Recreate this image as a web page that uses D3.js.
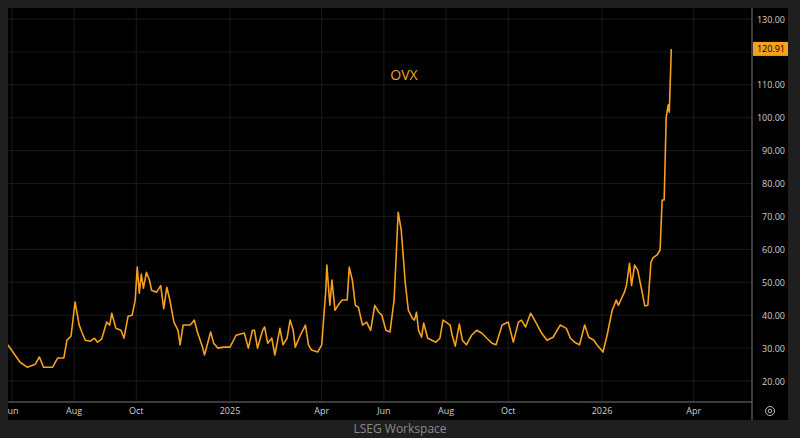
<!DOCTYPE html>
<html><head><meta charset="utf-8">
<script src="https://cdn.jsdelivr.net/npm/d3@7"></script>
<style>body{margin:0;background:#1f1f1f;overflow:hidden}text{font-family:"Open Sans",sans-serif}</style>
</head><body><svg id="c" width="800" height="438"></svg>
<script>
dates = ["2024-05-28","2024-06-02","2024-06-09","2024-06-16","2024-06-24","2024-06-28","2024-07-02","2024-07-06","2024-07-11","2024-07-16","2024-07-22","2024-07-25","2024-07-29","2024-08-02","2024-08-06","2024-08-09","2024-08-12","2024-08-17","2024-08-21","2024-08-24","2024-08-28","2024-09-02","2024-09-05","2024-09-07","2024-09-11","2024-09-16","2024-09-19","2024-09-23","2024-09-27","2024-09-30","2024-10-02","2024-10-04","2024-10-06","2024-10-08","2024-10-11","2024-10-14","2024-10-16","2024-10-21","2024-10-25","2024-10-28","2024-10-31","2024-11-03","2024-11-07","2024-11-11","2024-11-13","2024-11-16","2024-11-23","2024-11-27","2024-11-30","2024-12-05","2024-12-07","2024-12-13","2024-12-16","2024-12-20","2024-12-26","2025-01-01","2025-01-07","2025-01-15","2025-01-19","2025-01-23","2025-01-25","2025-01-28","2025-02-02","2025-02-04","2025-02-07","2025-02-11","2025-02-14","2025-02-19","2025-02-22","2025-02-26","2025-03-01","2025-03-04","2025-03-06","2025-03-11","2025-03-16","2025-03-19","2025-03-22","2025-03-28","2025-04-01","2025-04-05","2025-04-06","2025-04-09","2025-04-11","2025-04-14","2025-04-17","2025-04-21","2025-04-26","2025-04-28","2025-05-01","2025-05-04","2025-05-07","2025-05-11","2025-05-15","2025-05-19","2025-05-23","2025-05-27","2025-05-30","2025-06-03","2025-06-07","2025-06-11","2025-06-13","2025-06-15","2025-06-18","2025-06-22","2025-06-25","2025-06-29","2025-07-01","2025-07-03","2025-07-05","2025-07-08","2025-07-10","2025-07-14","2025-07-18","2025-07-22","2025-07-26","2025-07-29","2025-08-01","2025-08-05","2025-08-07","2025-08-10","2025-08-14","2025-08-17","2025-08-21","2025-08-26","2025-08-31","2025-09-05","2025-09-10","2025-09-15","2025-09-19","2025-09-25","2025-10-01","2025-10-06","2025-10-11","2025-10-14","2025-10-18","2025-10-23","2025-10-28","2025-11-02","2025-11-08","2025-11-14","2025-11-21","2025-11-27","2025-12-01","2025-12-05","2025-12-10","2025-12-15","2025-12-19","2025-12-24","2025-12-27","2026-01-02","2026-01-06","2026-01-11","2026-01-13","2026-01-15","2026-01-17","2026-01-20","2026-01-23","2026-01-25","2026-01-28","2026-01-30","2026-02-02","2026-02-05","2026-02-09","2026-02-12","2026-02-15","2026-02-18","2026-02-20","2026-02-24","2026-02-27","2026-03-01","2026-03-03","2026-03-05","2026-03-07","2026-03-08","2026-03-10"];
ovx = [31,28.8,25.7,24.2,25.1,27.3,24.2,24.2,24.2,27,27,32.4,33.6,44,37,34.6,32.4,32.1,33,31.8,32.7,37.9,37,40.6,36,35.4,33,39.7,40,44.6,54.6,46.7,52.5,48.2,53,50.7,47.6,47,49,42,48.5,44.6,37.9,35.4,31,37,37,38.5,34.9,30.3,27.9,34.9,31.5,30,30.3,30.3,33.9,34.6,30,35.4,35.4,30,35.4,36.4,31.5,33,27.9,36,31,33,38.5,35.4,30.3,33.9,37,31,29.4,28.8,31,47.6,55.2,43,50.7,41.5,43,44.6,44.6,54.6,50.7,43,42.4,37,37.9,35.4,43,40.9,40,35.4,34.9,44.6,57.7,71.3,65.9,49.7,41.5,39,38.5,40.9,35.4,33.3,37.6,33,32.4,31.8,33,38.5,37.9,37,33.9,30.6,37.3,32.4,31,33.9,35.4,34.6,33,31.5,31,37,37.9,31.8,37.9,38.5,36.4,40.6,37.9,34.9,32.4,33.3,37,36,33,31.8,31,37,33.3,32.4,31,28.8,33.9,41.5,43,44.6,43,45,47,49,55.8,49,55.2,53.7,47.6,42.8,43,56,57.4,58.3,59.8,75,75,100.2,103.9,101.7,120.91];
yTicks = [20,30,40,50,60,70,80,90,100,110,120,130];
xTicks = ["2024-06-01","2024-08-01","2024-10-01","2025-01-01","2025-04-01","2025-06-01","2025-08-01","2025-10-01","2026-01-01","2026-04-01"];

var svg = d3.select("#c");
var parse = d3.timeParse("%Y-%m-%d");
var data = dates.map(function(d,i){ return {date: parse(d), v: ovx[i]}; });

var pL = 8, pR = 752, pT = 8, pB = 402;
var x = d3.scaleTime().domain([parse("2025-01-01"), parse("2026-01-01")]).range([230, 602]);
var y = d3.scaleLinear().domain([20,130]).range([381,19]);

svg.append("rect").attr("x",pL).attr("y",pT).attr("width",788-pL).attr("height",420-pT).attr("fill","#000");

// grid
svg.append("g").selectAll("line").data(yTicks).join("line")
  .attr("x1",pL).attr("x2",pR).attr("y1",d=>y(d)).attr("y2",d=>y(d))
  .attr("stroke","#1a1a1a");
svg.append("g").selectAll("line").data(xTicks).join("line")
  .attr("x1",d=>x(parse(d))).attr("x2",d=>x(parse(d))).attr("y1",pT).attr("y2",pB)
  .attr("stroke","#1a1a1a");

svg.append("line").attr("x1",pR).attr("x2",pR).attr("y1",pT).attr("y2",420).attr("stroke","#777");
svg.append("line").attr("x1",pL).attr("x2",pR).attr("y1",pB).attr("y2",pB).attr("stroke","#777");

svg.append("clipPath").attr("id","pc").append("rect").attr("x",pL).attr("y",pT).attr("width",pR-pL).attr("height",pB-pT);

svg.append("path").datum(data).attr("clip-path","url(#pc)")
  .attr("fill","none").attr("stroke","#f5a01e").attr("stroke-width",1.6).attr("stroke-linejoin","round")
  .attr("d", d3.line().x(d=>x(d.date)).y(d=>y(d.v)));

// y labels
svg.append("g").selectAll("text").data(yTicks.filter(d=>d!=120)).join("text")
  .attr("x",785).attr("y",d=>y(d)+3.5).attr("text-anchor","end")
  .attr("fill","#d0d0d0").attr("font-size",9).text(d=>d3.format(".2f")(d));

// last value tag
var last = ovx[ovx.length-1];
svg.append("rect").attr("x",753).attr("y",y(last)-7).attr("width",35).attr("height",14).attr("fill","#f5a01e");
svg.append("text").attr("x",785).attr("y",y(last)+3.5).attr("text-anchor","end")
  .attr("fill","#000").attr("font-size",9).text(d3.format(".2f")(last));

// x labels
var fmt = function(d){ var t=parse(d); return t.getMonth()==0 ? d3.timeFormat("%Y")(t) : d3.timeFormat("%b")(t); };
svg.append("g").selectAll("text").data(xTicks).join("text")
  .attr("x",d=>x(parse(d))).attr("y",414).attr("text-anchor","middle")
  .attr("fill","#d0d0d0").attr("font-size",9).text(fmt);
svg.append("rect").attr("x",0).attr("y",pT).attr("width",pL).attr("height",420).attr("fill","#1f1f1f");

svg.append("circle").attr("cx",770).attr("cy",411).attr("r",4.5).attr("fill","none").attr("stroke","#bbb");
svg.append("circle").attr("cx",770).attr("cy",411).attr("r",1.8).attr("fill","none").attr("stroke","#bbb");

svg.append("text").attr("x",404).attr("y",80).attr("text-anchor","middle").attr("fill","#f5a01e").attr("font-size",14).text("OVX");
svg.append("text").attr("x",400).attr("y",433).attr("text-anchor","middle").attr("fill","#8a8a8a").attr("font-size",12).text("LSEG Workspace");
</script></body></html>
